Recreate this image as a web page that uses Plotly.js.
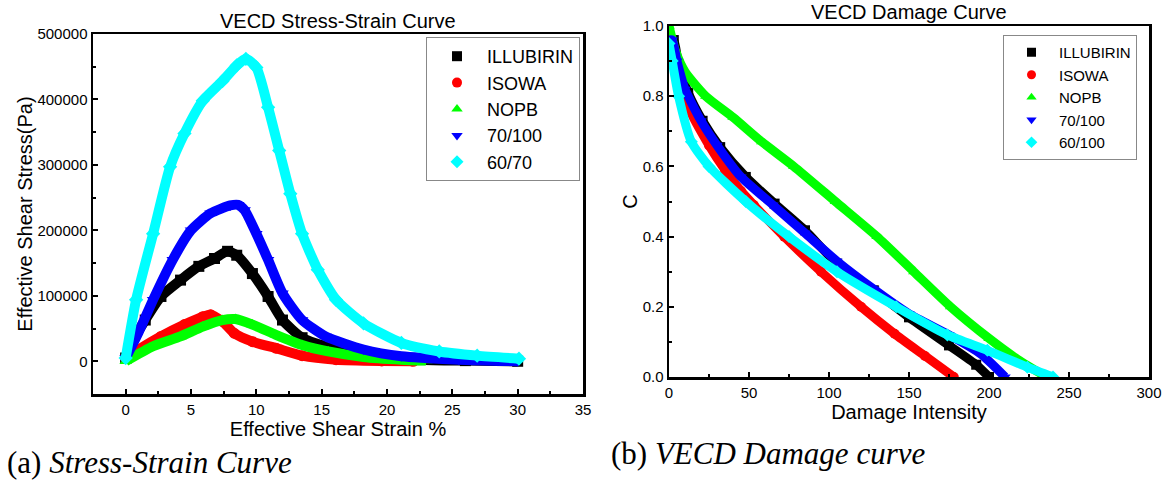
<!DOCTYPE html>
<html><head><meta charset="utf-8">
<script src="https://cdn.plot.ly/plotly-3.0.1.min.js"></script>
<style>html,body{margin:0;padding:0;background:#fff}#chart{width:1172px;height:482px}</style>
</head><body><div id="chart"></div>
<script>
// ---------- (a) Stress-strain data ----------
const strainIllubirin = [0, 0.5, 1.5, 2.7, 4.2, 5.6, 6.8, 7.8, 8.5, 9.7, 10.9, 12.0, 13.5, 15.3, 18.2, 22.5, 26, 30];
const stressIllubirin = [5000, 30000, 63000, 99000, 124000, 145000, 157000, 168000, 162000, 134000, 99000, 63000, 36000, 23000, 10000, 2500, 1000, 0];
const strainIsowa = [0, 1, 2.7, 4.5, 5.9, 6.5, 7.4, 8.3, 9.7, 11.5, 13.5, 16.1, 19.6, 22];
const stressIsowa = [5000, 18000, 38000, 56000, 68000, 71000, 61000, 43000, 30000, 20000, 8600, 2500, 500, 0];
const strainNopb = [0, 2.1, 4.2, 5.9, 7.4, 8.4, 9.7, 11.5, 13.5, 15.5, 18.2, 21.1, 23];
const stressNopb = [0, 23000, 38000, 53000, 63000, 64500, 56000, 40500, 25000, 15000, 6600, 2500, 1000];
const strain70100 = [0, 0.96, 2.1, 3.6, 5.0, 6.5, 8.0, 8.6, 9.1, 10, 10.9, 12.0, 13.5, 15.3, 18.2, 21.1, 25.5, 30];
const stress70100 = [5000, 43000, 94000, 155000, 200000, 226000, 238000, 239000, 231000, 195000, 155000, 104000, 63000, 38000, 18000, 7600, 2500, 0];
const strain6070 = [0, 0.8, 2.1, 3.4, 4.5, 5.9, 7.4, 8.5, 9.2, 10, 10.9, 11.75, 12.6, 13.5, 14.7, 16.1, 18.2, 21.1, 24, 26.9, 30.1];
const stress6070 = [5000, 94000, 195000, 297000, 348000, 398000, 428000, 452000, 462000, 449000, 388000, 322000, 256000, 195000, 140000, 94000, 58000, 28000, 15000, 8600, 4000];

// ---------- (b) Damage curve data ----------
const dmgIllubirin = [1, 3, 6, 12, 21, 32, 48, 66, 85, 105, 128, 150, 175, 192, 200];
const cIllubirin = [0.96, 0.96, 0.89, 0.81, 0.73, 0.655, 0.57, 0.494, 0.418, 0.323, 0.247, 0.17, 0.09, 0.035, 0.0];
const dmgIsowa = [0, 5, 12, 25, 35, 45, 53, 72, 95, 120, 141, 160, 178];
const cIsowa = [0.95, 0.87, 0.77, 0.66, 0.59, 0.53, 0.49, 0.4, 0.3, 0.2, 0.123, 0.06, 0.0];
const dmgNopb = [0, 4, 10, 23, 40, 58, 78, 104, 130, 153, 176, 200, 218, 236];
const cNopb = [1.0, 0.93, 0.87, 0.8, 0.74, 0.67, 0.6, 0.5, 0.4, 0.3, 0.2, 0.11, 0.05, 0.0];
const dmg70100 = [0, 2, 5, 10, 20, 30, 45, 65, 85, 105, 128, 150, 175, 195, 210];
const c70100 = [0.96, 0.96, 0.9, 0.82, 0.73, 0.66, 0.57, 0.49, 0.41, 0.33, 0.25, 0.18, 0.12, 0.065, 0.0];
const dmg60100 = [0, 2, 6, 14, 25, 48, 75, 105, 142, 174, 199, 224, 240];
const c60100 = [0.95, 0.9, 0.8, 0.67, 0.6, 0.5, 0.4, 0.3, 0.2, 0.12, 0.076, 0.028, 0.0];

const namesA = ['ILLUBIRIN', 'ISOWA', 'NOPB', '70/100', '60/70'];
const namesB = ['ILLUBIRIN', 'ISOWA', 'NOPB', '70/100', '60/100'];
const colors = ['#000000', '#ff0000', '#00ff00', '#0000ff', '#00ffff'];
const symbols = ['square', 'circle', 'triangle-up', 'triangle-down', 'diamond'];

const dataA = [[strainIllubirin, stressIllubirin], [strainIsowa, stressIsowa], [strainNopb, stressNopb], [strain70100, stress70100], [strain6070, stress6070]];
const dataB = [[dmgIllubirin, cIllubirin], [dmgIsowa, cIsowa], [dmgNopb, cNopb], [dmg70100, c70100], [dmg60100, c60100]];

const traces = [];
function addSet(data, names, xa, ya, legendId, lw, ms, lms) {
  data.forEach((d, i) => {
    traces.push({
      x: d[0], y: d[1], xaxis: xa, yaxis: ya, type: 'scatter', mode: 'lines+markers',
      line: {color: colors[i], width: lw, shape: 'spline', smoothing: 0.6},
      marker: {color: colors[i], symbol: symbols[i], size: ms, line: {width: 0}},
      showlegend: false, hoverinfo: 'skip'
    });
  });
  data.forEach((d, i) => {
    traces.push({
      x: [null], y: [null], xaxis: xa, yaxis: ya, type: 'scatter', mode: 'markers',
      name: names[i], legend: legendId,
      marker: {color: colors[i], symbol: symbols[i], size: lms, line: {width: 0}},
      showlegend: true
    });
  });
}
addSet(dataA, namesA, 'x', 'y', 'legend', 10, 11, 10);
addSet(dataB, namesB, 'x2', 'y2', 'legend2', 9, 10, 9);

const FONT = 'Liberation Sans, Arial, sans-serif';
const SERIF = 'Liberation Serif, Times New Roman, serif';
const axisBase = {
  showline: true, mirror: true, linecolor: '#000', linewidth: 2.5,
  ticks: 'inside', ticklen: 5, tickwidth: 2, tickcolor: '#000',
  showgrid: false, zeroline: false, fixedrange: true,
  tickfont: {family: FONT, size: 15, color: '#000'}
};

const layout = {
  width: 1172, height: 482,
  margin: {l: 0, r: 0, t: 0, b: 0},
  paper_bgcolor: '#fff', plot_bgcolor: '#fff',
  font: {family: FONT, color: '#000'},
  xaxis: Object.assign({}, axisBase, {
    domain: [93/1172, 583/1172], anchor: 'y', range: [-2.5, 35], dtick: 5, tick0: 0,
    minor: {dtick: 2.5, ticks: 'inside', ticklen: 3, tickwidth: 2, tickcolor: '#000'},
    title: {text: 'Effective Shear Strain %', font: {family: FONT, size: 20, color: '#000'}, standoff: 0}
  }),
  yaxis: Object.assign({}, axisBase, {
    domain: [1 - 394/482, 1 - 34/482], anchor: 'x', range: [-50000, 500000], dtick: 100000, tick0: 0,
    tickformat: 'd',
    minor: {dtick: 50000, ticks: 'inside', ticklen: 3, tickwidth: 2, tickcolor: '#000'},
    title: {text: 'Effective Shear Stress(Pa)', font: {family: FONT, size: 20, color: '#000'}, standoff: 0}
  }),
  xaxis2: Object.assign({}, axisBase, {
    domain: [669/1172, 1149/1172], anchor: 'y2', range: [0, 300], dtick: 50, tick0: 0,
    minor: {dtick: 25, ticks: 'inside', ticklen: 3, tickwidth: 2, tickcolor: '#000'},
    title: {text: 'Damage Intensity', font: {family: FONT, size: 20, color: '#000'}, standoff: 2}
  }),
  yaxis2: Object.assign({}, axisBase, {
    domain: [1 - 377/482, 1 - 26/482], anchor: 'x2', range: [0, 1], dtick: 0.2, tick0: 0,
    tickformat: '.1f',
    minor: {dtick: 0.1, ticks: 'inside', ticklen: 3, tickwidth: 2, tickcolor: '#000'},
    title: {text: 'C', font: {family: FONT, size: 20, color: '#000'}, standoff: 0}
  }),
  legend: {
    x: 580/1172, xanchor: 'right', y: 1 - 37/482, yanchor: 'top',
    bgcolor: '#fff', bordercolor: '#888', borderwidth: 1, itemwidth: 50,
    font: {family: FONT, size: 18, color: '#000'}, tracegroupgap: 0
  },
  legend2: {
    x: 1137/1172, xanchor: 'right', y: 1 - 35/482, yanchor: 'top',
    bgcolor: '#fff', bordercolor: '#888', borderwidth: 1, itemwidth: 45,
    font: {family: FONT, size: 15, color: '#000'}, tracegroupgap: 0
  },
  annotations: [
    {text: 'VECD Stress-Strain Curve', xref: 'paper', yref: 'paper', x: 338/1172, y: 1 - 21/482,
     xanchor: 'center', yanchor: 'middle', showarrow: false, font: {family: FONT, size: 20, color: '#000'}},
    {text: 'VECD Damage Curve', xref: 'paper', yref: 'paper', x: 909/1172, y: 1 - 12/482,
     xanchor: 'center', yanchor: 'middle', showarrow: false, font: {family: FONT, size: 20, color: '#000'}},
    {text: '(a) <i>Stress-Strain Curve</i>', xref: 'paper', yref: 'paper', x: 5/1172, y: 0,
     xanchor: 'left', yanchor: 'bottom', showarrow: false, font: {family: SERIF, size: 31, color: '#000'}},
    {text: '(b) <i>VECD Damage curve</i>', xref: 'paper', yref: 'paper', x: 609/1172, y: 1 - 453/482,
     xanchor: 'left', yanchor: 'middle', showarrow: false, font: {family: SERIF, size: 31, color: '#000'}}
  ]
};

Plotly.newPlot('chart', traces, layout, {displayModeBar: false, staticPlot: true});
</script></body></html>
